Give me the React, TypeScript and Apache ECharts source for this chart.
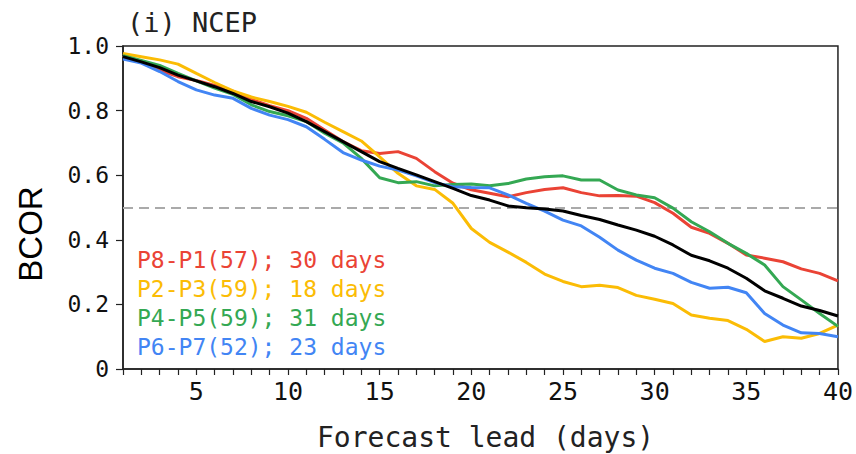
import React, { useEffect, useRef } from "react";
import * as echarts from "echarts";

const LEAD_DAYS = [
  1, 2, 3, 4, 5, 6, 7, 8, 9, 10, 11, 12, 13, 14, 15, 16, 17, 18, 19, 20,
  21, 22, 23, 24, 25, 26, 27, 28, 29, 30, 31, 32, 33, 34, 35, 36, 37, 38, 39, 40,
];

const P8_P1 = [
  0.970, 0.950, 0.925, 0.905, 0.893, 0.878, 0.860, 0.835, 0.815, 0.800,
  0.776, 0.740, 0.704, 0.676, 0.667, 0.673, 0.652, 0.611, 0.575, 0.555,
  0.544, 0.533, 0.546, 0.556, 0.561, 0.546, 0.536, 0.537, 0.535, 0.515,
  0.482, 0.439, 0.420, 0.389, 0.353, 0.343, 0.332, 0.310, 0.296, 0.273,
];
const P2_P3 = [
  0.977, 0.967, 0.957, 0.944, 0.915, 0.887, 0.861, 0.842, 0.828, 0.813,
  0.795, 0.764, 0.735, 0.706, 0.657, 0.606, 0.567, 0.556, 0.513, 0.435,
  0.392, 0.362, 0.330, 0.294, 0.271, 0.255, 0.259, 0.252, 0.228, 0.216,
  0.203, 0.167, 0.157, 0.150, 0.123, 0.085, 0.100, 0.095, 0.110, 0.136,
];
const P4_P5 = [
  0.970, 0.955, 0.940, 0.915, 0.892, 0.870, 0.850, 0.818, 0.797, 0.784,
  0.766, 0.730, 0.700, 0.652, 0.592, 0.577, 0.580, 0.567, 0.571, 0.573,
  0.567, 0.574, 0.588, 0.595, 0.598, 0.585, 0.585, 0.554, 0.539, 0.530,
  0.498, 0.456, 0.425, 0.389, 0.358, 0.322, 0.255, 0.214, 0.172, 0.132,
];
const P6_P7 = [
  0.960, 0.947, 0.921, 0.890, 0.864, 0.848, 0.838, 0.807, 0.786, 0.772,
  0.750, 0.711, 0.670, 0.647, 0.628, 0.616, 0.598, 0.577, 0.564, 0.562,
  0.561, 0.539, 0.513, 0.489, 0.461, 0.443, 0.408, 0.368, 0.337, 0.312,
  0.296, 0.268, 0.250, 0.253, 0.236, 0.172, 0.136, 0.112, 0.110, 0.100,
];
const ALL_MEAN = [
  0.967, 0.951, 0.933, 0.910, 0.892, 0.874, 0.853, 0.828, 0.812, 0.792,
  0.766, 0.735, 0.704, 0.673, 0.642, 0.621, 0.601, 0.580, 0.559, 0.537,
  0.523, 0.505, 0.499, 0.495, 0.489, 0.475, 0.463, 0.446, 0.430, 0.411,
  0.384, 0.352, 0.335, 0.312, 0.281, 0.242, 0.219, 0.195, 0.181, 0.164,
];

const REF_LEVEL = 0.5;
const Y_TICKS = [0, 0.2, 0.4, 0.6, 0.8, 1.0];
const X_LABELS = [5, 10, 15, 20, 25, 30, 35, 40];

const LEGEND_LINES = [
  "P8-P1(57); 30 days",
  "P2-P3(59); 18 days",
  "P4-P5(59); 31 days",
  "P6-P7(52); 23 days",
];

const COLORS = ["#EA4335", "#FBBC05", "#34A853", "#4285F4", "#000000"];
const SERIES = [P8_P1, P2_P3, P4_P5, P6_P7, ALL_MEAN];
const NAMES = ["P8-P1", "P2-P3", "P4-P5", "P6-P7", "All"];

const MONO = "'DejaVu Sans Mono', 'Liberation Mono', monospace";

export default function App() {
  const ref = useRef<HTMLDivElement>(null);

  useEffect(() => {
    if (!ref.current) return;
    const chart = echarts.init(ref.current, null, { renderer: "svg" });

    const gridLeft = 123;
    const gridTop = 46;
    const gridRight = 18;
    const gridBottom = 85;

    const series: any[] = SERIES.map((vals, si) => ({
      name: NAMES[si],
      type: "line",
      data: LEAD_DAYS.map((d, i) => [d, vals[i]]),
      showSymbol: false,
      symbol: "none",
      lineStyle: { color: COLORS[si], width: 3 },
      z: 3 + si,
      ...(si === 0
        ? {
            markLine: {
              silent: true,
              symbol: "none",
              label: { show: false },
              lineStyle: { color: "#aaaaaa", width: 2, type: [10, 6] },
              data: [{ yAxis: REF_LEVEL }],
            },
          }
        : {}),
    }));

    const legendStartY = 260;
    const legendStep = 29;

    chart.setOption({
      animation: false,
      backgroundColor: "#ffffff",
      grid: {
        left: gridLeft,
        right: gridRight,
        top: gridTop,
        bottom: gridBottom,
        show: true,
        borderColor: "#222",
        borderWidth: 1.5,
        containLabel: false,
      },
      xAxis: {
        type: "value",
        min: 1,
        max: 40,
        interval: 1,
        axisLine: { show: true, lineStyle: { color: "#222", width: 1.5 } },
        axisTick: { show: true, inside: false, length: 6, lineStyle: { color: "#222", width: 1.2 } },
        splitLine: { show: false },
        axisLabel: {
          margin: 10,
          color: "#111",
          fontFamily: MONO,
          fontSize: 25,
          formatter: (v: number) => (X_LABELS.indexOf(v) >= 0 ? String(v) : ""),
        },
      },
      yAxis: {
        type: "value",
        min: 0,
        max: 1,
        interval: 0.2,
        axisLine: { show: true, lineStyle: { color: "#222", width: 1.5 } },
        axisTick: { show: true, inside: false, length: 7, lineStyle: { color: "#222", width: 1.2 } },
        splitLine: { show: false },
        axisLabel: {
          margin: 14,
          color: "#111",
          fontFamily: MONO,
          fontSize: 23,
          formatter: (v: number) => {
            const t = Y_TICKS.find((y) => Math.abs(y - v) < 1e-6);
            if (t === undefined) return "";
            return t === 0 ? "0" : t.toFixed(1);
          },
        },
      },
      graphic: [
        {
          type: "text",
          left: 127,
          top: 9,
          style: { text: "(i) NCEP", fill: "#222", font: `27px ${MONO}` },
        },
        {
          type: "text",
          left: 317,
          top: 423,
          style: { text: "Forecast lead (days)", fill: "#222", font: `28px ${MONO}` },
        },
        {
          type: "text",
          x: 47,
          y: 234,
          rotation: Math.PI / 2,
          style: {
            text: "BCOR",
            fill: "#000",
            font: "33px 'Liberation Sans', Arial, sans-serif",
            align: "center",
            verticalAlign: "bottom",
          },
        },
        ...LEGEND_LINES.map((t, i) => ({
          type: "text",
          x: 137,
          y: legendStartY + i * legendStep,
          style: {
            text: t,
            fill: COLORS[i],
            font: `23px ${MONO}`,
            verticalAlign: "middle",
            align: "left",
          },
        })),
      ],
      series,
    });

    return () => chart.dispose();
  }, []);

  return (
    <div
      ref={ref}
      style={{ position: "fixed", left: 0, top: 0, width: 856, height: 454, background: "#fff" }}
    />
  );
}
